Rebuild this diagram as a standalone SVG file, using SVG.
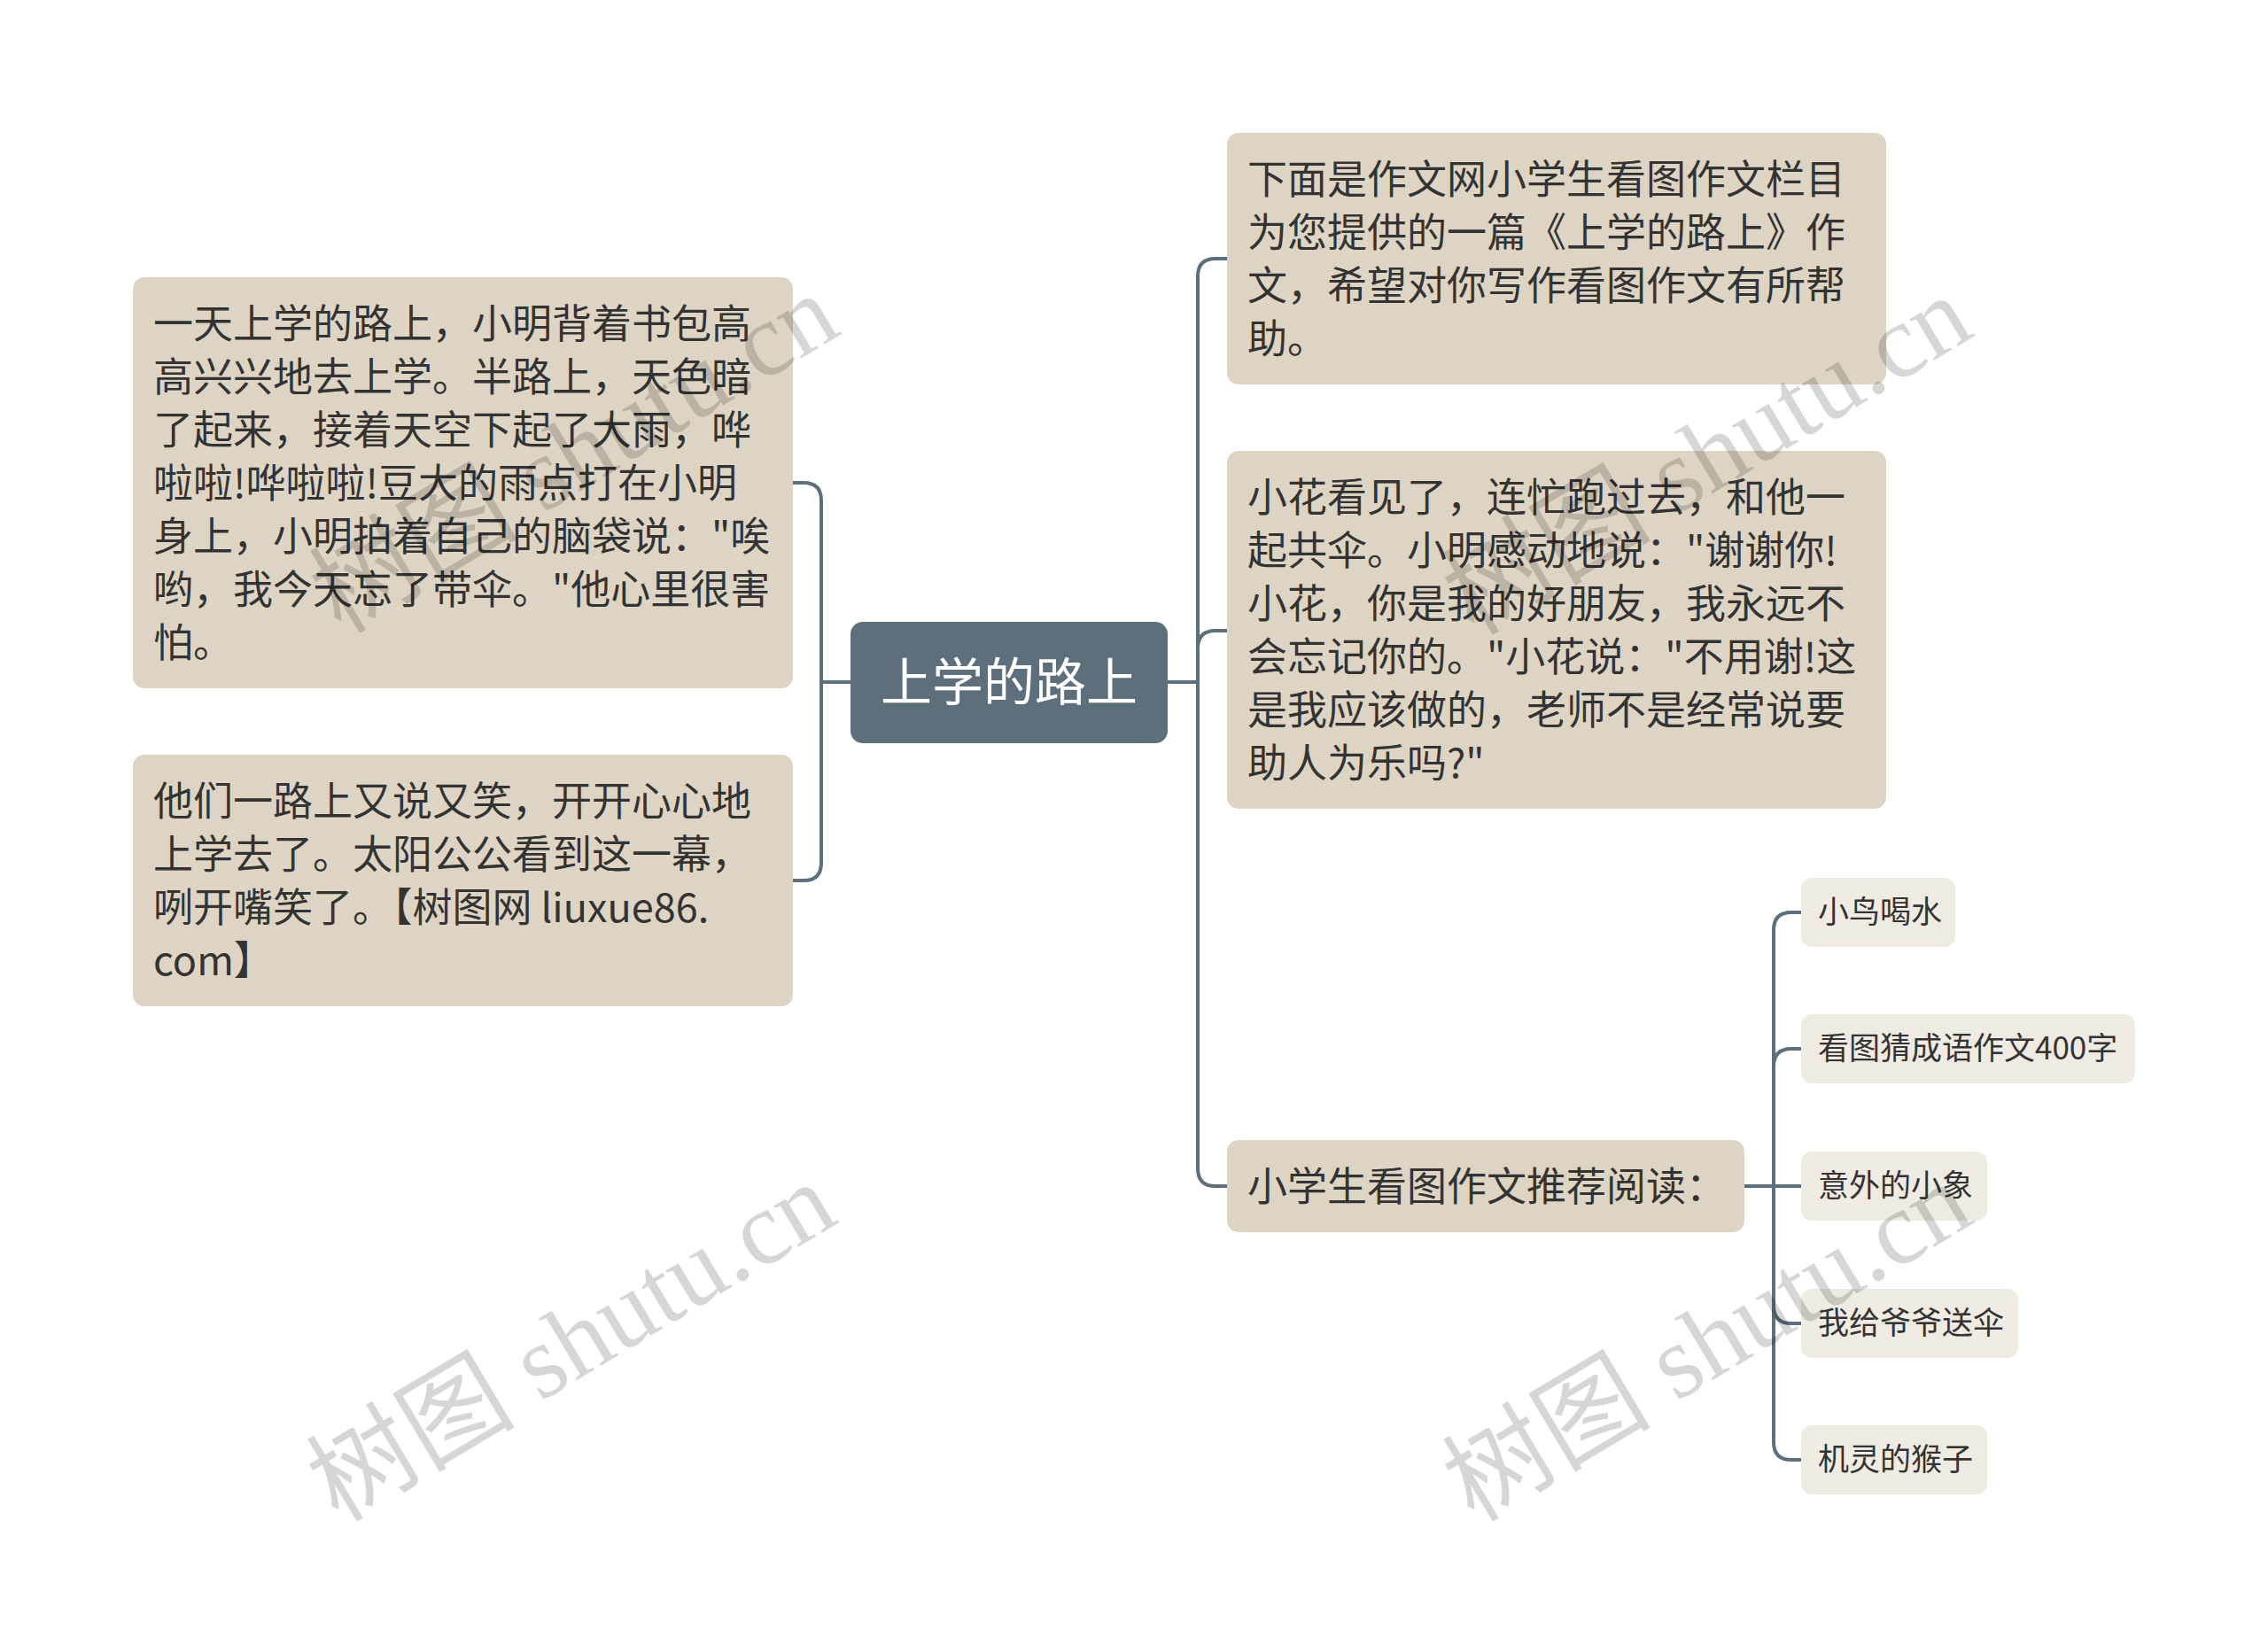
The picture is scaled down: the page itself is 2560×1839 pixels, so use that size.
<svg xmlns="http://www.w3.org/2000/svg" width="2560" height="1839" viewBox="0 0 2560 1839">
<style>
.bg{fill:#ffffff}
.main{fill:#ded4c4}
.leaf{fill:#efebe3}
.root{fill:#5c6f7b}
.t{font-family:"Noto Sans CJK SC","Noto Sans",sans-serif;font-size:45px;fill:#333333}
.lt{font-family:"Noto Sans CJK SC","Noto Sans",sans-serif;font-size:35px;fill:#333333}
.rt{font-family:"Noto Sans CJK SC","Noto Sans",sans-serif;font-size:58px;fill:#ffffff}
.c{fill:none;stroke:#5c6f7b;stroke-width:4;stroke-linecap:round;stroke-linejoin:round}
.wm{font-family:"Liberation Serif","Noto Sans CJK SC",serif;font-size:118px;fill:#000000;fill-opacity:0.16}
</style>
<rect class="bg" x="0" y="0" width="2560" height="1839"/>
<g id="connectors">
<path class="c" d="M960,770 H927"/>
<path class="c" d="M895,545 H907 Q927,545 927,565 V974 Q927,994 907,994 H895"/>
<path class="c" d="M1318,770 H1352"/>
<path class="c" d="M1385,292 H1372 Q1352,292 1352,312 V1319 Q1352,1339 1372,1339 H1385"/>
<path class="c" d="M1352,732 Q1352,712 1372,712 H1385"/>
<path class="c" d="M1969,1339 H2033"/>
<path class="c" d="M2033,1030 H2022 Q2002,1030 2002,1050 V1628 Q2002,1648 2022,1648 H2033"/>
<path class="c" d="M2002,1204 Q2002,1184 2022,1184 H2033"/>
<path class="c" d="M2002,1474 Q2002,1494 2022,1494 H2033"/>
</g>
<g id="root">
<rect class="root" x="960" y="702" width="358" height="137" rx="14"/>
<text class="rt" x="1139" y="791" text-anchor="middle">上学的路上</text>
</g>
<g id="left1">
<rect class="main" x="150" y="313" width="745" height="464" rx="13"/>
<text class="t" x="173" y="382"><tspan x="173">一天上学的路上，小明背着书包高</tspan><tspan x="173" dy="60">高兴兴地去上学。半路上，天色暗</tspan><tspan x="173" dy="60">了起来，接着天空下起了大雨，哗</tspan><tspan x="173" dy="60">啦啦!哗啦啦!豆大的雨点打在小明</tspan><tspan x="173" dy="60">身上，小明拍着自己的脑袋说："唉</tspan><tspan x="173" dy="60">哟，我今天忘了带伞。"他心里很害</tspan><tspan x="173" dy="60">怕。</tspan></text>
</g>
<g id="left2">
<rect class="main" x="150" y="852" width="745" height="284" rx="13"/>
<text class="t" x="173" y="921"><tspan x="173">他们一路上又说又笑，开开心心地</tspan><tspan x="173" dy="60">上学去了。太阳公公看到这一幕，</tspan><tspan x="173" dy="60">咧开嘴笑了。【树图网 liuxue86.</tspan><tspan x="173" dy="60">com】</tspan></text>
</g>
<g id="right1">
<rect class="main" x="1385" y="150" width="744" height="284" rx="13"/>
<text class="t" x="1408" y="219"><tspan x="1408">下面是作文网小学生看图作文栏目</tspan><tspan x="1408" dy="60">为您提供的一篇《上学的路上》作</tspan><tspan x="1408" dy="60">文，希望对你写作看图作文有所帮</tspan><tspan x="1408" dy="60">助。</tspan></text>
</g>
<g id="right2">
<rect class="main" x="1385" y="509" width="744" height="404" rx="13"/>
<text class="t" x="1408" y="578"><tspan x="1408">小花看见了，连忙跑过去，和他一</tspan><tspan x="1408" dy="60">起共伞。小明感动地说："谢谢你!</tspan><tspan x="1408" dy="60">小花，你是我的好朋友，我永远不</tspan><tspan x="1408" dy="60">会忘记你的。"小花说："不用谢!这</tspan><tspan x="1408" dy="60">是我应该做的，老师不是经常说要</tspan><tspan x="1408" dy="60">助人为乐吗?"</tspan></text>
</g>
<g id="right3">
<rect class="main" x="1385" y="1287" width="584" height="104" rx="13"/>
<text class="t" x="1408" y="1356">小学生看图作文推荐阅读：</text>
</g>
<g id="leaf1">
<rect class="leaf" x="2033" y="991" width="174" height="78" rx="12"/>
<text class="lt" x="2052" y="1042">小鸟喝水</text>
</g>
<g id="leaf2">
<rect class="leaf" x="2033" y="1145" width="377" height="78" rx="12"/>
<text class="lt" x="2052" y="1196">看图猜成语作文400字</text>
</g>
<g id="leaf3">
<rect class="leaf" x="2033" y="1300" width="210" height="78" rx="12"/>
<text class="lt" x="2052" y="1351">意外的小象</text>
</g>
<g id="leaf4">
<rect class="leaf" x="2033" y="1455" width="245" height="78" rx="12"/>
<text class="lt" x="2052" y="1506">我给爷爷送伞</text>
</g>
<g id="leaf5">
<rect class="leaf" x="2033" y="1609" width="210" height="78" rx="12"/>
<text class="lt" x="2052" y="1660">机灵的猴子</text>
</g>
<g id="watermarks">
<text class="wm" text-anchor="middle" transform="translate(645,1515) rotate(-31)" x="0" y="40">树图 shutu.cn</text>
<text class="wm" text-anchor="middle" transform="translate(1927,1515) rotate(-31)" x="0" y="40">树图 shutu.cn</text>
<text class="wm" text-anchor="middle" transform="translate(648,512) rotate(-31)" x="0" y="40">树图 shutu.cn</text>
<text class="wm" text-anchor="middle" transform="translate(1927,514) rotate(-31)" x="0" y="40">树图 shutu.cn</text>
</g>
</svg>
